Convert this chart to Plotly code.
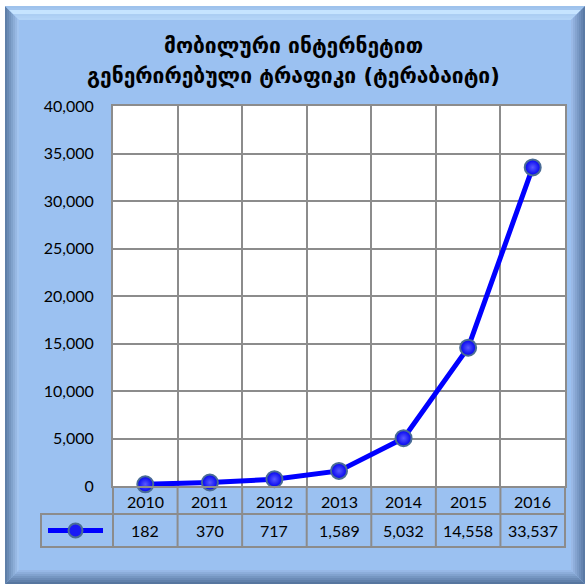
import plotly.graph_objects as go

# ---- data ----
years = ["2010", "2011", "2012", "2013", "2014", "2015", "2016"]
traffic = [182, 370, 717, 1589, 5032, 14558, 33537]
y_tick_vals = [0, 5000, 10000, 15000, 20000, 25000, 30000, 35000, 40000]
title_lines = ["მობილური ინტერნეტით", "გენერირებული ტრაფიკი (ტერაბაიტი)"]

# ---- geometry (pixels) ----
W, H = 586, 587
L, R, T, B = 113, 565, 106, 486


def px(x):
    return (x - L) / (R - L)


def py(y):
    return (B - y) / (B - T)


def hexmix(c1, c2, t):
    a = [int(c1[i:i + 2], 16) for i in (1, 3, 5)]
    b = [int(c2[i:i + 2], 16) for i in (1, 3, 5)]
    return "#" + "".join(f"{int(round(a[i] + (b[i] - a[i]) * t)):02x}" for i in range(3))


fig = go.Figure()
fig.add_trace(go.Scatter(
    x=years, y=traffic, mode="lines+markers", cliponaxis=False,
    line=dict(color="#0000ff", width=5),
    marker=dict(size=16, color="#0000f0",
                gradient=dict(type="radial", color="#5a5aff"),
                line=dict(color="#4a6c96", width=2)),
    showlegend=False, hoverinfo="x+y",
))

shapes = []
# panel with bevel
X0, Y0, X1, Y1 = 5, 6, 585, 584
inner = "#9bc1f1"
shapes.append(dict(type="rect", xref="paper", yref="paper", layer="below",
                   x0=px(X0), x1=px(X1), y0=py(Y1), y1=py(Y0),
                   fillcolor=inner, line=dict(width=0)))
n, w = 7, 2
sides = {
    "left": ("#5f7fa8", "#a2c4ef"),
    "top": ("#9ec2ec", "#b3d4f7"),
    "right": ("#5a7aa5", "#9ab9e6"),
    "bottom": ("#56769f", "#97b8e6"),
}
for k in range(n):
    t0, t1 = k * w, (k + 1) * w
    for side, (c_out, c_in) in sides.items():
        col = hexmix(c_out, c_in, k / (n - 1))
        if side == "top" and k in (2, 3):
            col = "#c6e4ff"
        if side == "left":
            pts = [(X0 + t0, Y0 + t0), (X0 + t1, Y0 + t1), (X0 + t1, Y1 - t1), (X0 + t0, Y1 - t0)]
        elif side == "right":
            pts = [(X1 - t0, Y0 + t0), (X1 - t1, Y0 + t1), (X1 - t1, Y1 - t1), (X1 - t0, Y1 - t0)]
        elif side == "top":
            pts = [(X0 + t0, Y0 + t0), (X1 - t0, Y0 + t0), (X1 - t1, Y0 + t1), (X0 + t1, Y0 + t1)]
        else:
            pts = [(X0 + t0, Y1 - t0), (X1 - t0, Y1 - t0), (X1 - t1, Y1 - t1), (X0 + t1, Y1 - t1)]
        path = "M " + " L ".join(f"{px(a):.5f},{py(b):.5f}" for a, b in pts) + " Z"
        shapes.append(dict(type="path", xref="paper", yref="paper", layer="below",
                           path=path, fillcolor=col, line=dict(width=0)))

# white plot area
shapes.append(dict(type="rect", xref="paper", yref="paper", layer="below",
                   x0=0, x1=1, y0=0, y1=1, fillcolor="white", line=dict(width=0)))

# data table lines
gc = "#8c8c8c"
ROW1, ROW2 = 514, 547
TL = 41
cell_w = (R - L) / len(years)
for i in range(len(years) + 1):
    xx = L + i * cell_w
    shapes.append(dict(type="line", xref="paper", yref="paper", layer="below",
                       x0=px(xx), x1=px(xx), y0=py(B), y1=py(ROW2),
                       line=dict(color=gc, width=2)))
shapes.append(dict(type="line", xref="paper", yref="paper", layer="below",
                   x0=px(TL), x1=px(TL), y0=py(ROW1), y1=py(ROW2),
                   line=dict(color=gc, width=2)))
for yy in (ROW1, ROW2):
    shapes.append(dict(type="line", xref="paper", yref="paper", layer="below",
                       x0=px(TL - 1), x1=px(R + 1), y0=py(yy), y1=py(yy),
                       line=dict(color=gc, width=2)))
# legend key inside table
ly = (ROW1 + ROW2) / 2
shapes.append(dict(type="line", xref="paper", yref="paper", layer="above",
                   x0=px(48), x1=px(103), y0=py(ly), y1=py(ly),
                   line=dict(color="#0000ff", width=5)))
shapes.append(dict(type="circle", xref="paper", yref="paper", layer="above",
                   x0=px(68.5), x1=px(82.5), y0=py(ly + 7), y1=py(ly - 7),
                   fillcolor="#1a1af5", line=dict(color="#4a6c96", width=2)))

annotations = []
for i, line in enumerate(title_lines):
    annotations.append(dict(text="<b>" + line + "</b>", xref="paper", yref="paper",
                            x=px(293), y=py(46 + i * 30), showarrow=False,
                            xanchor="center", yanchor="middle",
                            font=dict(family="DejaVu Sans", size=21, color="black")))
for i, (yr, v) in enumerate(zip(years, traffic)):
    annotations.append(dict(text=yr, xref="x", yref="paper", x=i, y=py((B + ROW1) / 2 + 1),
                            showarrow=False, xanchor="center", yanchor="middle",
                            font=dict(family="Lato", size=16, color="black")))
    annotations.append(dict(text=f"{v:,}", xref="x", yref="paper", x=i, y=py(ly),
                            showarrow=False, xanchor="center", yanchor="middle",
                            font=dict(family="Lato", size=16, color="black")))

fig.update_layout(
    width=W, height=H,
    margin=dict(l=L, r=W - R, t=T, b=H - B, pad=0),
    paper_bgcolor="white", plot_bgcolor="rgba(0,0,0,0)",
    shapes=shapes, annotations=annotations,
    xaxis=dict(type="category", range=[-0.5, len(years) - 0.5], tickson="boundaries",
               showgrid=True, gridcolor=gc, gridwidth=2, showticklabels=False,
               showline=True, linecolor=gc, linewidth=2, mirror=True, ticks="",
               zeroline=False, fixedrange=True),
    yaxis=dict(range=[0, 40000], tickvals=y_tick_vals, tickformat=",d",
               showgrid=True, gridcolor=gc, gridwidth=2,
               showline=True, linecolor=gc, linewidth=2, mirror=True, ticks="",
               ticklabelstandoff=14, zeroline=False,
               tickfont=dict(family="Lato", size=16, color="black"), fixedrange=True),
    font=dict(family="Lato", size=16, color="black"),
)

fig.write_html("out.html", config={"displayModeBar": False},
               post_script="document.body.style.margin='0';document.body.style.overflow='hidden';")
